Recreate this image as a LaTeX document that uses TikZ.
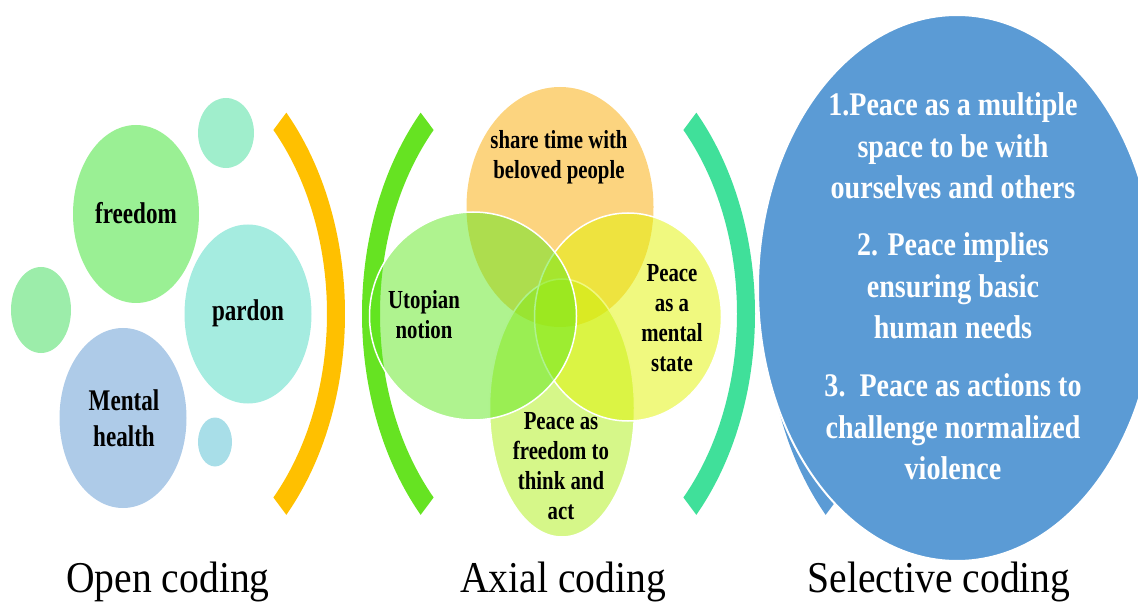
\documentclass[tikz,border=0pt]{standalone}
\usepackage{fontspec}
\setmainfont{Liberation Serif}
\newfontfamily\opencond[FakeStretch=0.77]{Liberation Serif}
\newfontfamily\axialcond[FakeStretch=0.8]{Liberation Serif}
\newfontfamily\selectcond[FakeStretch=0.85]{Liberation Serif}
\newfontfamily\stagecond[FakeStretch=0.9]{Liberation Serif}
\usetikzlibrary{shapes.geometric,calc}
\definecolor{freedomgreen}{RGB}{154,240,148}
\definecolor{pardonteal}{RGB}{165,236,224}
\definecolor{healthblue}{RGB}{174,203,232}
\definecolor{dotmint}{RGB}{160,238,204}
\definecolor{dotgreen}{RGB}{156,237,170}
\definecolor{dotblue}{RGB}{168,222,232}
\definecolor{arcorange}{RGB}{255,192,0}
\definecolor{arcgreen}{RGB}{102,227,34}
\definecolor{arcteal}{RGB}{64,224,154}
\definecolor{selectblue}{RGB}{91,155,213}
\definecolor{vennorange}{RGB}{250,170,0}
\definecolor{venngreen}{RGB}{95,231,31}
\definecolor{vennyellow}{RGB}{225,243,0}
\definecolor{vennlime}{RGB}{173,239,19}
\begin{document}
\begin{tikzpicture}[x=1pt,y=-1pt,
  bubble/.style={ellipse, inner sep=0pt},
  venn/.style={ellipse, inner sep=0pt, draw=white, line width=1.5pt, fill opacity=0.5},
  opentext/.style={font=\opencond\bfseries\fontsize{30}{36}\selectfont, align=center},
  axialtext/.style={font=\axialcond\bfseries\fontsize{26}{30}\selectfont, align=center},
  selecttext/.style={font=\selectcond\bfseries\fontsize{33}{41.5}\selectfont, align=center, text=white},
  stagetext/.style={font=\stagecond\fontsize{44}{50}\selectfont, anchor=base}]
\useasboundingbox (0,0) rectangle (1138,612);

% open coding
\node[bubble, fill=dotmint, minimum width=56, minimum height=70] (dotT) at (226,133) {};
\node[bubble, fill=dotgreen, minimum width=60, minimum height=86] (dotL) at (41,310) {};
\node[bubble, fill=dotblue, minimum width=34, minimum height=49] (dotB) at (215,442) {};
\node[bubble, fill=freedomgreen, minimum width=126, minimum height=178] (freedom) at (136,214) {};
\node[bubble, fill=pardonteal, minimum width=127, minimum height=179] (pardon) at (248,314) {};
\node[bubble, fill=healthblue, minimum width=127, minimum height=180] (health) at (123,418) {};
\node[opentext] (freedomT) at (136,213) {freedom};
\node[opentext] (pardonT) at (248,313) {pardon};
\node[opentext] (healthT) at (124,418) {Mental\\health};

% brackets
\coordinate (oc) at (136,313.75);
\coordinate (gc) at (571,313.75);
\coordinate (tc) at (546,313.75);
\coordinate (bc) at (976,313.75);
\fill[arcorange] ($(oc)+(-44:209 and 289.5)$) arc[start angle=-44, end angle=44, x radius=209, y radius=289.5]
  -- ($(oc)+(44:191 and 264.5)$) arc[start angle=44, end angle=-44, x radius=191, y radius=264.5] -- cycle;
\fill[arcgreen] ($(gc)+(136:209 and 289.5)$) arc[start angle=136, end angle=224, x radius=209, y radius=289.5]
  -- ($(gc)+(224:191 and 264.5)$) arc[start angle=224, end angle=136, x radius=191, y radius=264.5] -- cycle;
\fill[arcteal] ($(tc)+(-44:209 and 289.5)$) arc[start angle=-44, end angle=44, x radius=209, y radius=289.5]
  -- ($(tc)+(44:191 and 264.5)$) arc[start angle=44, end angle=-44, x radius=191, y radius=264.5] -- cycle;
\fill[selectblue] ($(bc)+(136:209 and 289.5)$) arc[start angle=136, end angle=224, x radius=209, y radius=289.5]
  -- ($(bc)+(224:191 and 264.5)$) arc[start angle=224, end angle=136, x radius=191, y radius=264.5] -- cycle;

% axial coding
\node[venn, fill=vennorange, draw=none, minimum width=187, minimum height=240] (share) at (560,207) {};
\node[venn, fill=vennlime, minimum width=145, minimum height=258] (think) at (562,408) {};
\node[venn, fill=vennyellow, minimum width=187, minimum height=208] (mental) at (628,317) {};
\node[venn, fill=venngreen, minimum width=207, minimum height=208] (utopia) at (473,316) {};
\node[axialtext] (shareT) at (559,157) {share time with\\beloved people};
\node[axialtext] (utopiaT) at (424,315) {Utopian\\notion};
\node[axialtext] (mentalT) at (672,318) {Peace\\as a\\mental\\state};
\node[axialtext] (thinkT) at (561,466) {Peace as\\freedom to\\think and\\act};

% selective coding
\node[bubble, fill=selectblue, draw=white, line width=2pt, minimum width=398, minimum height=546] (select) at (957,288) {};
\node[selecttext] (peaceA) at (953,146) {1.Peace as a multiple\\space to be with\\ourselves and others};
\node[selecttext] (peaceB) at (953,286) {2. Peace implies\\ensuring basic\\human needs};
\node[selecttext] (peaceC) at (953,427) {3.\ \ Peace as actions to\\challenge normalized\\violence};

% stage labels
\node[stagetext] (openL) at (168,592) {Open coding};
\node[stagetext] (axialL) at (563,592) {Axial coding};
\node[stagetext] (selectL) at (939,592) {Selective coding};
\end{tikzpicture}
\end{document}
